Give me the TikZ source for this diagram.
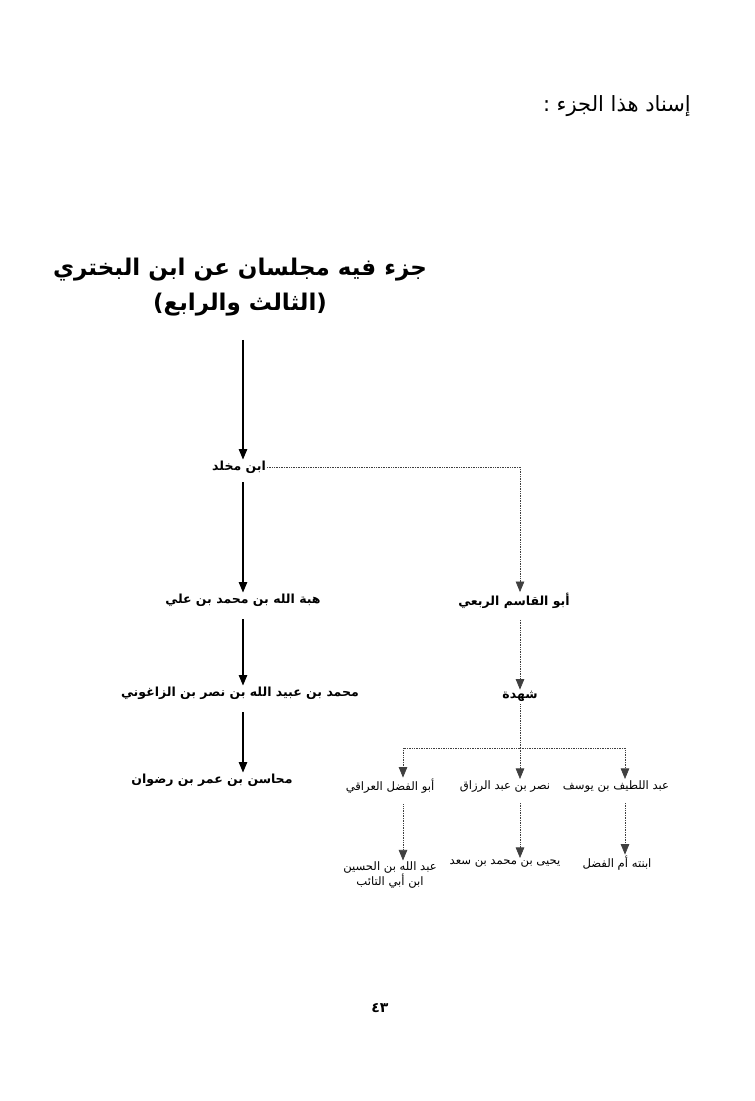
\documentclass[tikz,border=0pt]{standalone}
\usepackage{fontspec}
\TeXXeTstate=1
\newfontfamily\arabicfont[Script=Arabic]{DejaVu Sans}
\usetikzlibrary{arrows.meta}
\newcommand\artxt[1]{\beginR #1\endR}
\tikzset{
  lbl/.style={inner sep=1pt, font=\arabicfont\fontsize{11.6}{15}\selectfont},
  midlbl/.style={inner sep=1pt, font=\arabicfont\bfseries\fontsize{12.5}{15}\selectfont},
  ttl/.style={inner sep=1pt, font=\arabicfont\bfseries\fontsize{23}{27}\selectfont},
  solidarr/.style={line width=1.1pt, -{Triangle[width=8.5pt,length=10.5pt]}},
  dotln/.style={line width=0.7pt, black!75, dash pattern=on 0.8pt off 0.9pt},
  dotarr/.style={dotln, -{Triangle[width=8.5pt,length=10.5pt]}},
}
\begin{document}
\begin{tikzpicture}[x=1pt,y=-1pt]
\fill[white] (0,0) rectangle (755,1101);
\useasboundingbox (0,0) rectangle (755,1101);

\node[lbl, anchor=east, font=\arabicfont\fontsize{21}{24}\selectfont] (hdr) at (692,106) {\artxt{إسناد هذا الجزء :}};

\node[ttl] (t1) at (240,270) {\artxt{جزء فيه مجلسان عن ابن البختري}};
\node[ttl] (t2) at (240,305) {\artxt{(الثالث والرابع)}};

\node[midlbl] (mk) at (239,467) {\artxt{ابن مخلد}};
\node[midlbl] (hb) at (243,600) {\artxt{هبة الله بن محمد بن علي}};
\node[midlbl] (zg) at (240,693) {\artxt{محمد بن عبيد الله بن نصر بن الزاغوني}};
\node[midlbl] (rd) at (212,780) {\artxt{محاسن بن عمر بن رضوان}};

\node[midlbl] (rb) at (514,601) {\artxt{أبو القاسم الربعي}};
\node[midlbl] (sh) at (520,696) {\artxt{شهدة}};

\node[lbl] (c1) at (390,786) {\artxt{أبو الفضل العراقي}};
\node[lbl] (c2) at (505,786) {\artxt{نصر بن عبد الرزاق}};
\node[lbl] (c3) at (616,786) {\artxt{عبد اللطيف بن يوسف}};

\node[lbl, align=center] (d1) at (390,875) {\artxt{عبد الله بن الحسين}\\\artxt{ابن أبي التائب}};
\node[lbl] (d2) at (505,863) {\artxt{يحيى بن محمد بن سعد}};
\node[lbl] (d3) at (617,863) {\artxt{ابنته أم الفضل}};

\node[font=\arabicfont\bfseries\fontsize{14}{16}\selectfont, inner sep=1pt] (pg) at (380,1008) {٤٣};

% columns of the connectors
\coordinate (colM) at (243,0);
\coordinate (colR) at (520,0);
\coordinate (colA) at (403,0);
\coordinate (colC) at (625,0);
\coordinate (fork) at (520,748);

% solid chain
\draw[solidarr] (t2.south -| colM) ++(0,22) -- (mk.north -| colM);
\draw[solidarr] (mk.south -| colM) ++(0,8) -- (hb.north -| colM);
\draw[solidarr] (hb.south -| colM) ++(0,12) -- (zg.north -| colM);
\draw[solidarr] (zg.south -| colM) ++(0,12) -- (rd.north -| colM);

% dotted branch
\draw[dotarr] (mk.east) -- (mk.east -| colR) -- (rb.north -| colR);
\draw[dotarr] (rb.south -| colR) ++(0,10) -- (sh.north -| colR);
\draw[dotln] (sh.south -| colR) ++(0,2) -- (fork);
\draw[dotarr] (fork) -- (c2.north -| colR);
\draw[dotarr] (fork) -| (c1.north -| colA);
\draw[dotarr] (fork) -| (c3.north -| colC);

\draw[dotarr] (c1.south -| colA) ++(0,10) -- (d1.north -| colA);
\draw[dotarr] (c2.south -| colR) ++(0,10) -- (d2.north -| colR);
\draw[dotarr] (c3.south -| colC) ++(0,10) -- (d3.north -| colC);
\end{tikzpicture}
\end{document}
